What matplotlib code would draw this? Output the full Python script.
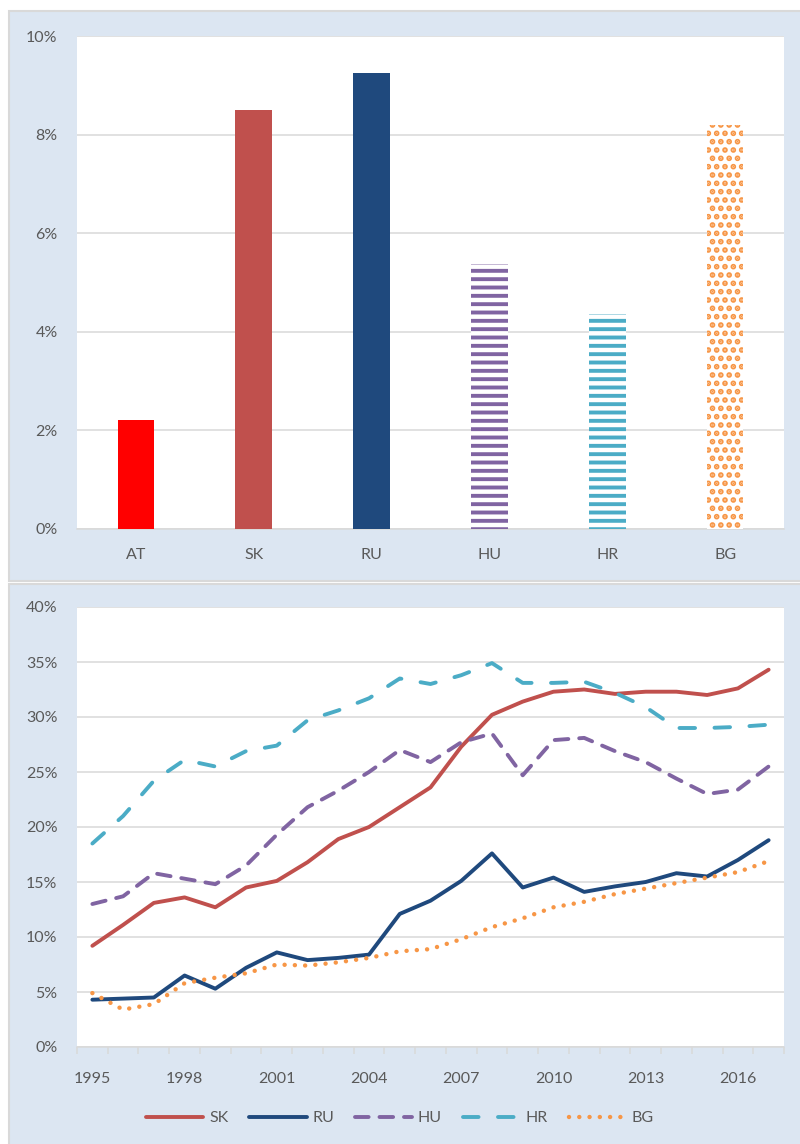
"""
Two-panel figure: bar comparison by country and time series 1995-2017.
"""
import matplotlib
matplotlib.use("Agg")
import matplotlib.pyplot as plt
from matplotlib.patches import Rectangle
from matplotlib.ticker import FuncFormatter, MultipleLocator, FixedLocator

plt.rcParams["font.family"] = ["Lato", "DejaVu Sans"]
plt.rcParams["hatch.linewidth"] = 2.8

# --- data -------------------------------------------------------------
bar_labels = ["AT", "SK", "RU", "HU", "HR", "BG"]
bar_values = [2.21, 8.50, 9.25, 5.38, 4.36, 8.19]

years = list(range(1995, 2018))
sk = [9.2, 11.1, 13.1, 13.6, 12.7, 14.5, 15.1, 16.8, 18.9, 20.0, 21.8, 23.6,
      27.3, 30.2, 31.4, 32.3, 32.5, 32.1, 32.3, 32.3, 32.0, 32.6, 34.3]
ru = [4.3, 4.4, 4.5, 6.5, 5.3, 7.2, 8.6, 7.9, 8.1, 8.4, 12.1, 13.3,
      15.1, 17.6, 14.5, 15.4, 14.1, 14.6, 15.0, 15.8, 15.5, 17.0, 18.8]
hu = [13.0, 13.7, 15.8, 15.3, 14.8, 16.5, 19.3, 21.8, 23.3, 25.0, 27.0, 25.9,
      27.7, 28.5, 24.7, 27.9, 28.1, 26.9, 25.9, 24.4, 23.0, 23.4, 25.5]
hr = [18.5, 21.0, 24.2, 26.1, 25.5, 26.9, 27.4, 29.7, 30.6, 31.7, 33.5, 33.0,
      33.8, 34.9, 33.1, 33.1, 33.2, 32.2, 30.9, 29.0, 29.0, 29.1, 29.3]
bg = [4.9, 3.4, 3.9, 5.8, 6.3, 6.7, 7.5, 7.4, 7.7, 8.1, 8.7, 8.9,
      9.8, 10.9, 11.7, 12.7, 13.2, 13.9, 14.4, 14.9, 15.4, 15.9, 16.9]

TXT = "#595959"
GRID = "#D9D9D9"
PANEL = "#DCE6F2"
FS = 11.5

fig = plt.figure(figsize=(8, 11.44), dpi=100)
H = 1144.0

# panel backgrounds (pixel coords -> figure fractions)
for y0, y1 in [(11, 581), (584, 1150)]:
    fig.patches.append(Rectangle((9 / 800, 1 - y1 / H), 1.0, (y1 - y0) / H,
                                 transform=fig.transFigure, facecolor=PANEL,
                                 edgecolor=GRID, linewidth=1.5, zorder=-10))

pct = FuncFormatter(lambda v, p: f"{v:.0f}%")

# --- top: bars --------------------------------------------------------
ax1 = fig.add_axes([77 / 800, 1 - 529 / H, 707 / 800, (529 - 36) / H])
ax1.set_facecolor("white")
x = range(len(bar_labels))
styles = [
    dict(color="#FF0000"),
    dict(color="#C0504D"),
    dict(color="#1F497D"),
    dict(facecolor="white", edgecolor="#8064A2", hatch="--", linewidth=0),
    dict(facecolor="white", edgecolor="#4BACC6", hatch="--", linewidth=0),
    dict(facecolor="white", edgecolor="#F79646", hatch="..", linewidth=0),
]
for i, (v, st) in enumerate(zip(bar_values, styles)):
    ax1.bar(i, v, width=0.31, zorder=3, **st)
ax1.set_xlim(-0.5, len(bar_labels) - 0.5)
ax1.set_ylim(0, 10)
ax1.yaxis.set_major_locator(MultipleLocator(2))
ax1.yaxis.set_major_formatter(pct)
ax1.set_xticks(list(x))
ax1.set_xticklabels(bar_labels)
ax1.grid(axis="y", color=GRID, linewidth=1.1, zorder=0)
ax1.tick_params(axis="x", length=0, pad=14, labelsize=FS, labelcolor=TXT)
ax1.tick_params(axis="y", length=0, pad=14, labelsize=FS, labelcolor=TXT)
for s in ["top", "right", "left"]:
    ax1.spines[s].set_visible(False)
ax1.spines["bottom"].set_color(GRID)
ax1.spines["bottom"].set_linewidth(1.1)

# --- bottom: lines ----------------------------------------------------
ax2 = fig.add_axes([77 / 800, 1 - 1047 / H, 707 / 800, (1047 - 607) / H])
ax2.set_facecolor("white")
idx = list(range(len(years)))
lw = 2.8
ax2.plot(idx, sk, color="#C0504D", lw=lw, label="SK", solid_capstyle="round", zorder=3)
ax2.plot(idx, ru, color="#1F497D", lw=lw, label="RU", solid_capstyle="round", zorder=3)
ax2.plot(idx, hu, color="#8064A2", lw=lw, label="HU", dashes=(3.5, 2.8),
         dash_capstyle="round", zorder=3)
ax2.plot(idx, hr, color="#4BACC6", lw=lw, label="HR", dashes=(4, 5),
         dash_capstyle="round", zorder=3)
ax2.plot(idx, bg, color="#F79646", lw=3.2, label="BG", dashes=(0.01, 2.3),
         dash_capstyle="round", zorder=3)
ax2.set_xlim(-0.5, len(years) - 0.5)
ax2.set_ylim(0, 40)
ax2.yaxis.set_major_locator(MultipleLocator(5))
ax2.yaxis.set_major_formatter(pct)
ax2.set_xticks(idx[::3])
ax2.set_xticklabels([str(y) for y in years[::3]])
ax2.xaxis.set_minor_locator(FixedLocator([i - 0.5 for i in range(len(years) + 1)]))
ax2.grid(axis="y", color=GRID, linewidth=1.1, zorder=0)
ax2.tick_params(axis="x", which="major", length=0, pad=18, labelsize=FS, labelcolor=TXT)
ax2.tick_params(axis="x", which="minor", length=5, width=1.1, color=GRID)
ax2.tick_params(axis="y", length=0, pad=14, labelsize=FS, labelcolor=TXT)
for s in ["top", "right", "left"]:
    ax2.spines[s].set_visible(False)
ax2.spines["bottom"].set_color(GRID)
ax2.spines["bottom"].set_linewidth(1.1)

fig.legend(loc="center", bbox_to_anchor=(0.5, 1 - 1118 / H), ncol=5,
           frameon=False, fontsize=FS, labelcolor=TXT, handlelength=3.6,
           handletextpad=0.35, columnspacing=1.3)

fig.savefig("out.png", dpi=100, facecolor="white")
print("Saved: out.png")
